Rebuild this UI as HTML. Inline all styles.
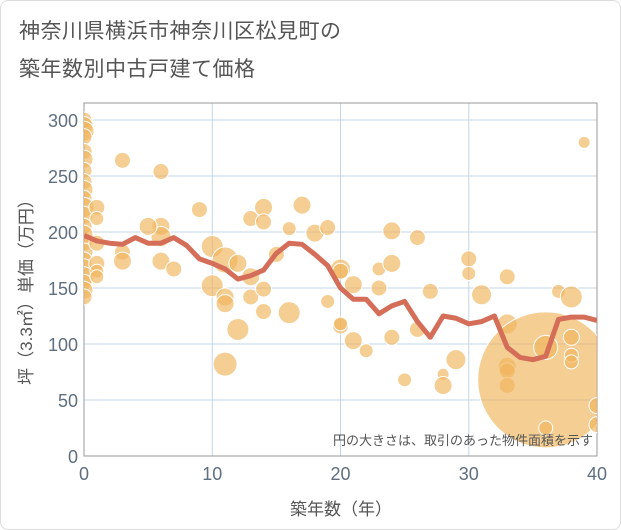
<!DOCTYPE html>
<html><head><meta charset="utf-8">
<style>
body{margin:0;background:#fff;font-family:"Liberation Sans","Noto Sans CJK JP",sans-serif;}
#wrap{position:relative;width:619px;height:528px;border:1px solid #ddd;border-radius:8px;overflow:hidden;background:#fff}
.title{position:absolute;left:18px;font-size:21px;color:#555;letter-spacing:0.5px}
</style></head><body>
<div id="wrap">
<div class="title" style="top:14px">神奈川県横浜市神奈川区松見町の</div>
<div class="title" style="top:52px">築年数別中古戸建て価格</div>
<svg id="chart" width="621" height="530" style="position:absolute;left:-1px;top:-1px"></svg>
</div>
<script>
const xTicks=[0,10,20,30,40];
const yTicks=[0,50,100,150,200,250,300];
const lineX=[0,1,2,3,4,5,6,7,8,9,10,11,12,13,14,15,16,17,18,19,20,21,22,23,24,25,26,27,28,29,30,31,32,33,34,35,36,37,38,39,40];
const lineY=[197,192,190,189,195,190,190,195,188,176,172,167,158,161,166,181,190,189,180,170,150,140,140,127,134,138,120,106,125,123,118,120,125,97,88,86,89,122,124,124,121];
const bubX=[0,0,0,0,0,0,0,0,0,0,0,0,0,0,0,0,0,0,0,0,0,0,1,1,1,1,1,1,3,3,3,6,6,6,6,5,7,9,10,10,11,11,11,11,12,12,13,13,13,14,14,14,14,15,16,16,17,18,19,19,20,20,20,20,21,21,22,23,23,24,24,24,25,26,26,27,28,28,29,30,30,31,33,33,33,33,33,36,36,36,37,38,38,38,38,39,40,40];
const bubY=[300,295,290,285,272,265,255,245,238,230,222,215,205,198,190,182,175,168,160,155,148,142,222,212,190,172,165,160,264,182,174,254,205,196,174,205,167,220,187,152,175,142,136,82,172,113,212,160,142,222,209,149,129,180,203,128,224,199,204,138,167,165,116,118,153,103,94,167,150,201,172,106,68,195,113,147,73,63,86,176,163,144,160,118,80,76,63,68,25,97,147,142,106,90,84,280,45,28];
const bubR=[8,9,10,8,8,9,8,8,9,8,10,9,8,9,8,9,8,9,10,8,9,8,8,7,8,8,7,7,8,8,9,8,9,10,9,9,8,8,11,11,13,9,9,12,9,11,8,9,8,9,8,8,8,8,7,11,9,9,8,7,10,8,8,7,9,9,7,7,8,9,9,8,7,8,8,8,6,9,10,8,7,10,8,10,9,8,8,68,7,12,7,11,8,7,7,6,8,8];
const NS='http://www.w3.org/2000/svg';
const svg=document.getElementById('chart');
const L=84,R=597,T=103,B=456;
const sx=v=>L+(v/40)*(R-L);
const sy=v=>B-(v/300)*(B-120);
function mk(tag,attrs,parent){const e=document.createElementNS(NS,tag);for(const k in attrs)e.setAttribute(k,attrs[k]);(parent||svg).appendChild(e);return e;}
const grid=mk('g',{});


xTicks.forEach(t=>{mk('line',{x1:sx(t),x2:sx(t),y1:T,y2:B,stroke:'#c5d5e5','stroke-width':1},grid);
 const tx=mk('text',{x:sx(t),y:B+24,'font-size':18,fill:'#5f6f80','text-anchor':'middle'});tx.textContent=t;
 
 });
yTicks.forEach(t=>{mk('line',{x1:L,x2:R,y1:sy(t),y2:sy(t),stroke:'#c5d5e5','stroke-width':1},grid);
 const tx=mk('text',{x:L-6,y:sy(t)+7,'font-size':18,fill:'#5f6f80','text-anchor':'end'});tx.textContent=t;
 
 });
mk('rect',{x:L,y:T,width:R-L,height:B-T,fill:'none',stroke:'#999','stroke-width':1});
const clip=mk('clipPath',{id:'pc'});mk('rect',{x:L,y:T,width:R-L,height:B-T},clip);
const bg=mk('g',{'clip-path':'url(#pc)'});


bubX.forEach((x,i)=>{const c=mk('circle',{cx:sx(x),cy:sy(bubY[i]),r:bubR[i],fill:'rgba(240,180,90,0.65)',stroke:'#fff','stroke-width':1},bg);
 
 });
const pl=mk('polyline',{points:lineX.map((x,i)=>sx(x)+','+sy(lineY[i])).join(' '),fill:'none',stroke:'#d56e58','stroke-width':5,'stroke-linejoin':'round','clip-path':'url(#pc)'});


const note=mk('text',{x:593,y:445,'font-size':13,fill:'#555','text-anchor':'end'});note.textContent='円の大きさは、取引のあった物件面積を示す';


const xl=mk('text',{x:341,y:515,'font-size':17,fill:'#555','text-anchor':'middle'});xl.textContent='築年数（年）';


const yl=mk('text',{x:0,y:0,'font-size':17,fill:'#555','text-anchor':'middle',transform:'translate(32,288) rotate(-90)'});yl.textContent='坪（3.3㎡）単価（万円）';


</script>
</body></html>
